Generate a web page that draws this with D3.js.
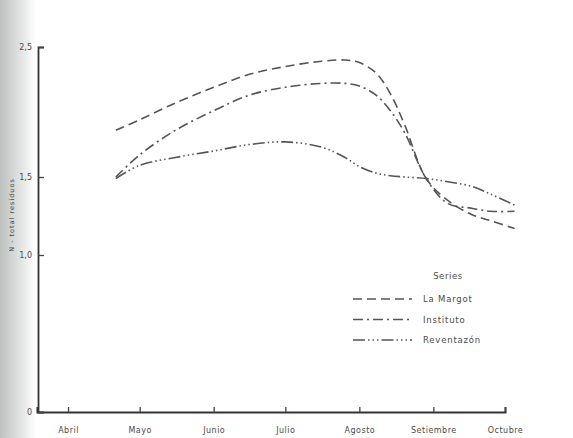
<!DOCTYPE html>
<html>
<head>
  <title>N total residuos</title>
  <script src="https://d3js.org/d3.v7.min.js"></script>
  <style>
    body { margin: 0; background: #fff; }
    text { font-family: "DejaVu Sans", sans-serif; fill: #4a4a4a; }
  </style>
</head>
<body>
  <div id="chart"></div>

  <script>
    // fechas de muestreo (1975) y valores
    var fechas = ["04-21","05-01","05-16","06-01","06-16","07-01","07-16","07-26","08-01","08-08",
                  "08-14","08-20","08-29","09-07","09-17","09-25","10-05"];
    var laMargot   = [1.86,1.94,2.07,2.19,2.29,2.35,2.39,2.40,2.38,2.30,2.14,1.90,1.49,1.35,1.26,1.22,1.17];
    var instituto  = [1.50,1.67,1.86,2.01,2.13,2.19,2.22,2.22,2.20,2.13,2.01,1.84,1.49,1.33,1.30,1.28,1.28];
    var reventazon = [1.49,1.59,1.65,1.70,1.75,1.77,1.73,1.65,1.58,1.53,1.51,1.50,1.49,1.47,1.44,1.39,1.32];
    var meses = ["Abril","Mayo","Junio","Julio","Agosto","Setiembre","Octubre"];
    var yTicks = [0, 1.0, 1.5, 2.5];
    var series = ["La Margot", "Instituto", "Reventazón"];

    var width = 573, height = 438;
    var parse = d3.timeParse("%Y-%m-%d");

    var svg = d3.select("#chart").append("svg")
      .attr("width", width)
      .attr("height", height);

    // sombra gris del escaneo a la izquierda
    var grad = svg.append("defs").append("linearGradient")
      .attr("id", "sombra");
    grad.append("stop").attr("offset", "0%").attr("stop-color", "#bcc0bf");
    grad.append("stop").attr("offset", "60%").attr("stop-color", "#e3e6e5");
    grad.append("stop").attr("offset", "100%").attr("stop-color", "#ffffff");
    svg.append("rect")
      .attr("x", 0).attr("y", 0)
      .attr("width", 36).attr("height", height)
      .attr("fill", "url(#sombra)");

    var x = d3.scaleTime()
      .domain([parse("1975-03-19"), parse("1975-10-01")])
      .range([37, 505]);

    // eje vertical del original no es uniforme
    var y = d3.scaleLinear()
      .domain([0, 1.0, 1.5, 2.5])
      .range([412, 255, 177, 47]);

    var tickFechas = ["04-01","05-01","06-01","07-01","08-01","09-01","10-01"].map(function(d) {
      return parse("1975-" + d);
    });

    var xAxis = svg.append("g")
      .attr("transform", "translate(0,412)")
      .call(d3.axisBottom(x)
        .tickValues(tickFechas)
        .tickSize(-5)
        .tickPadding(15)
        .tickFormat(function(d, i) { return meses[i]; }));
    xAxis.select(".domain").attr("stroke", "#333").attr("stroke-width", 2);
    xAxis.selectAll(".tick line").attr("stroke", "#444").attr("stroke-width", 1.3);
    xAxis.selectAll("text")
      .style("font-size", "8px")
      .style("letter-spacing", "0.5px")
      .attr("fill", "#4a4a4a");

    var yAxis = svg.append("g")
      .attr("transform", "translate(38,0)")
      .call(d3.axisLeft(y)
        .tickValues(yTicks)
        .tickSize(-6)
        .tickPadding(6)
        .tickFormat(function(d) { return d === 0 ? "0" : d3.format(".1f")(d).replace(".", ","); }));
    yAxis.select(".domain").attr("stroke", "#333").attr("stroke-width", 1.8);
    yAxis.selectAll(".tick line").attr("stroke", "#444").attr("stroke-width", 1.3);
    yAxis.selectAll("text")
      .style("font-size", "8px")
      .attr("fill", "#4a4a4a");

    svg.append("text")
      .attr("transform", "rotate(-90)")
      .attr("x", -215)
      .attr("y", 14)
      .attr("text-anchor", "middle")
      .style("font-size", "6.5px")
      .style("letter-spacing", "1px")
      .attr("fill", "#7a7a7a")
      .text("N - total residuos");

    var dashes = ["9,5", "10,4,2,4", "12,3,1.5,3,1.5,3,1.5,3"];
    var valores = [laMargot, instituto, reventazon];

    var line = d3.line()
      .x(function(d) { return x(d.fecha); })
      .y(function(d) { return y(d.valor); })
      .curve(d3.curveCatmullRom.alpha(0.5));

    valores.forEach(function(serie, k) {
      var data = serie.map(function(v, i) {
        return { fecha: parse("1975-" + fechas[i]), valor: v };
      });
      svg.append("path")
        .datum(data)
        .attr("fill", "none")
        .attr("stroke", "#555")
        .attr("stroke-width", 1.6)
        .attr("stroke-dasharray", dashes[k])
        .attr("d", line);
    });

    // leyenda
    var legend = svg.append("g");
    legend.append("text")
      .attr("x", 448)
      .attr("y", 279)
      .attr("text-anchor", "middle")
      .style("font-size", "8.5px")
      .style("letter-spacing", "0.6px")
      .text("Series");

    series.forEach(function(name, k) {
      var yy = 299 + k * 20.5;
      legend.append("line")
        .attr("x1", 353).attr("x2", 412)
        .attr("y1", yy).attr("y2", yy)
        .attr("stroke", "#555")
        .attr("stroke-width", 1.6)
        .attr("stroke-dasharray", dashes[k]);
      legend.append("text")
        .attr("x", 423)
        .attr("y", yy + 3)
        .style("font-size", "8.5px")
        .style("letter-spacing", "0.8px")
        .text(name);
    });
  </script>
</body>
</html>
